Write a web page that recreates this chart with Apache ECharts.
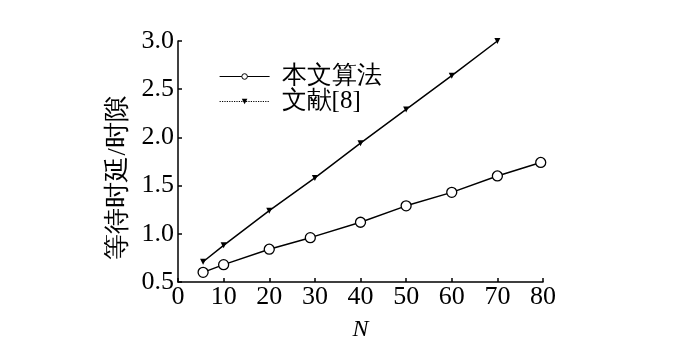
<!DOCTYPE html>
<html><head><meta charset="utf-8">
<script src="https://cdn.jsdelivr.net/npm/echarts@6/dist/echarts.min.js"></script>
<style>html,body{margin:0;padding:0;background:#fff}#c{width:700px;height:347px}</style>
</head><body><div id="c"></div>
<script>
var seriesNames = ['本文算法', '文献[8]'];
var nOurs = [5.5, 10, 20, 29, 40, 50, 60, 70, 79.5];
var delayOurs = [0.60, 0.68, 0.84, 0.96, 1.12, 1.29, 1.43, 1.60, 1.74];
var nRef = [5.5, 10, 20, 30, 40, 50, 60, 70];
var delayRef = [0.71, 0.88, 1.24, 1.58, 1.94, 2.29, 2.64, 3.00];
var xLabelName = 'N';
var yLabelName = '等待时延/时隙';

var serif = "'Times New Roman', 'Liberation Serif', 'DejaVu Serif', serif";
function pairs(xs, ys){ return xs.map(function(x,i){return [x, ys[i]];}); }

var chart = echarts.init(document.getElementById('c'));
chart.setOption({
  animation: false,
  backgroundColor: '#fff',
  grid: {left: 178, right: 157, top: 41, bottom: 65},
  legend: {
    left: 214, top: 59, orient: 'vertical', itemGap: 0,
    itemWidth: 50, itemHeight: 7,
    textStyle: {fontFamily: serif, fontSize: 25, color: '#000', lineHeight: 25, padding: [0,0,0,7]},
    data: [
      {name: seriesNames[0], itemStyle: {color: '#fff', borderColor: '#000', borderWidth: 1}, lineStyle: {color: '#000', width: 1.2, type: 'solid'}},
      {name: seriesNames[1], itemStyle: {color: '#000'}, lineStyle: {color: '#000', width: 1.2, type: 'dotted'}}
    ]
  },
  xAxis: {
    type: 'value', min: 0, max: 80, interval: 10,
    name: xLabelName, nameLocation: 'middle', nameGap: 36,
    nameTextStyle: {fontFamily: serif, fontSize: 24, fontStyle: 'italic', color: '#000'},
    axisLine: {lineStyle: {color: '#000', width: 1.5}},
    axisTick: {inside: true, length: 4, lineStyle: {color: '#000', width: 1.5}},
    axisLabel: {fontFamily: serif, fontSize: 26, color: '#000', margin: 2},
    splitLine: {show: false}
  },
  yAxis: {
    type: 'value', min: 0.5, max: 3.0, interval: 0.5,
    axisLine: {show: true, lineStyle: {color: '#000', width: 1.5}},
    axisTick: {show: true, inside: true, length: 4, lineStyle: {color: '#000', width: 1.5}},
    axisLabel: {fontFamily: serif, fontSize: 26, color: '#000', margin: 4,
      formatter: function(v){return v.toFixed(1);}},
    splitLine: {show: false}
  },
  graphic: [{
    type: 'text', x: 118, y: 178, rotation: Math.PI/2,
    style: {text: yLabelName, fontFamily: serif, fontSize: 26, fill: '#000', align: 'center', verticalAlign: 'middle'}
  }],
  series: [
    {name: seriesNames[0], type: 'line', data: pairs(nOurs, delayOurs),
     symbol: 'circle', symbolSize: 10, showAllSymbol: true,
     itemStyle: {color: '#fff', borderColor: '#000', borderWidth: 1.3},
     lineStyle: {color: '#000', width: 1.5}},
    {name: seriesNames[1], type: 'line', data: pairs(nRef, delayRef),
     symbol: 'triangle', symbolSize: 6, symbolRotate: 180, showAllSymbol: true,
     itemStyle: {color: '#000'},
     lineStyle: {color: '#000', width: 1.5}}
  ]
});
</script></body></html>
